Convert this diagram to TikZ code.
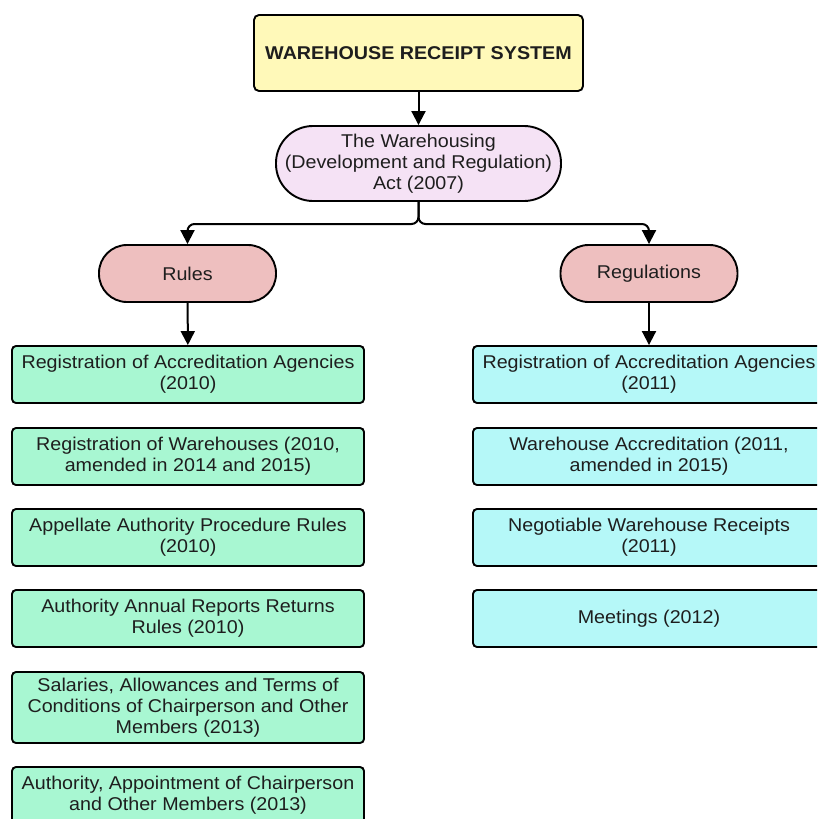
\documentclass[tikz,border=0pt]{standalone}
\usepackage{fontspec}
\setmainfont{Liberation Sans}[FakeStretch=1.065]
\usetikzlibrary{arrows.meta}
\definecolor{yfill}{HTML}{FFF9B9}
\definecolor{lfill}{HTML}{F5E2F5}
\definecolor{pfill}{HTML}{EEBFBF}
\definecolor{gfill}{HTML}{A8F7D2}
\definecolor{cfill}{HTML}{B5F8F8}
\definecolor{txt}{HTML}{1E1E1E}
\newcommand\fsz{\fontsize{18.5}{21}\selectfont}
\tikzset{
  base/.style={draw=black, line width=1.9pt, text=txt, align=center, font=\fsz, inner sep=0pt},
  titlebox/.style={base, fill=yfill, rounded corners=5pt, minimum width=329pt, minimum height=76pt, font=\fsz\bfseries},
  actbox/.style={base, fill=lfill, rounded corners=37pt, minimum width=285pt, minimum height=75pt},
  pillbox/.style={base, fill=pfill, rounded corners=28pt, minimum width=177pt, minimum height=57pt},
  greenbox/.style={base, fill=gfill, rounded corners=4pt, minimum width=352pt, minimum height=57pt},
  cyanbox/.style={base, fill=cfill, rounded corners=4pt, minimum width=352pt, minimum height=57pt},
  arr/.style={draw=black, line width=2pt, -{Triangle[length=14pt,width=14pt]}}
}
\begin{document}
\begin{tikzpicture}[x=1pt,y=-1pt]
\clip (0,0) rectangle (817,819);
\fill[white] (0,0) rectangle (817,819);
\node[titlebox] (title) at (418.5,53) {WAREHOUSE RECEIPT SYSTEM};
\node[actbox] (act) at (418.5,163.5) {The Warehousing\\(Development and Regulation)\\Act (2007)};
\node[pillbox] (rules) at (187.5,273.5) {Rules};
\node[pillbox] (regs) at (649,273.5) {Regulations};
\node[greenbox] (g1) at (188,374.5) {Registration of Accreditation Agencies\\(2010)};
\node[greenbox] (g2) at (188,456.5) {Registration of Warehouses (2010,\\amended in 2014 and 2015)};
\node[greenbox] (g3) at (188,537.5) {Appellate Authority Procedure Rules\\(2010)};
\node[greenbox] (g4) at (188,618.5) {Authority Annual Reports Returns\\Rules (2010)};
\node[greenbox, minimum height=71pt] (g5) at (188,707.5) {Salaries, Allowances and Terms of\\Conditions of Chairperson and Other\\Members (2013)};
\node[greenbox] (g6) at (188,795.5) {Authority, Appointment of Chairperson\\and Other Members (2013)};
\node[cyanbox] (c1) at (649,374.5) {Registration of Accreditation Agencies\\(2011)};
\node[cyanbox] (c2) at (649,456.5) {Warehouse Accreditation (2011,\\amended in 2015)};
\node[cyanbox] (c3) at (649,537.5) {Negotiable Warehouse Receipts\\(2011)};
\node[cyanbox] (c4) at (649,618.5) {Meetings (2012)};
\coordinate (j) at (418.5,224);
\draw[arr] (title) -- (act);
\draw[arr, rounded corners=7pt] (act.south) -- (j) -| (rules.north);
\draw[arr, rounded corners=7pt] (act.south) -- (j) -| (regs.north);
\draw[arr] (rules) -- (g1);
\draw[arr] (regs) -- (c1);
\end{tikzpicture}
\end{document}
